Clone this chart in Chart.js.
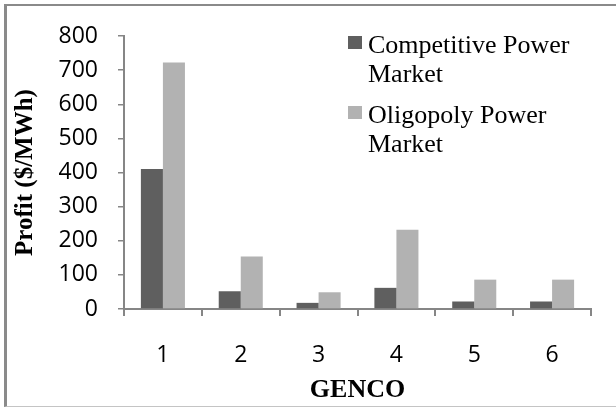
<!DOCTYPE html>
<html>
<head>
<meta charset="utf-8">
<script src="https://cdn.jsdelivr.net/npm/chart.js@4.4.1/dist/chart.umd.min.js"></script>
<style>
  html, body { margin: 0; padding: 0; background: #ffffff; }
  #wrap { position: relative; width: 616px; height: 408px; overflow: hidden; }
  #frame {
    position: absolute; left: 4px; top: 4px; width: 640px; height: 400px;
    border-left: 3px solid #8a8a8a; border-top: 2px solid #8a8a8a; border-bottom: 1px solid #c4c4c4;
  }
  #chart { position: absolute; left: 0; top: 0; }
</style>
</head>
<body>
<div id="wrap">
  <div id="frame"></div>
  <canvas id="chart" width="616" height="408"></canvas>
</div>
<script>
// GENCO numbers on the category axis
const gencos = ['1', '2', '3', '4', '5', '6'];
// Profit per GENCO, $/MWh
const competitiveProfit = [410, 52, 18, 62, 22, 22];
const oligopolyProfit = [722, 154, 49, 232, 86, 86];
// Value axis ticks
const yTicks = [0, 100, 200, 300, 400, 500, 600, 700, 800];

const seriesNames = ['Competitive Power Market', 'Oligopoly Power Market'];
const seriesColors = ['#5f5f5f', '#b2b2b2'];
const axisGray = '#868686';

// Legend drawn inside the plot, with labels wrapped onto several lines
const wrappedLegend = {
  id: 'wrappedLegend',
  afterDraw(chart) {
    const ctx = chart.ctx;
    const x0 = 348, box = 14, textX = 368, maxW = 216, lineH = 29;
    let baseline = 53;
    ctx.save();
    ctx.font = '26px "Liberation Serif", "Times New Roman", serif';
    ctx.textBaseline = 'alphabetic';
    ctx.textAlign = 'left';
    chart.data.datasets.forEach((ds) => {
      const words = ds.label.split(' ');
      const lines = [];
      let cur = '';
      words.forEach((w) => {
        const test = cur ? cur + ' ' + w : w;
        if (ctx.measureText(test).width > maxW && cur) { lines.push(cur); cur = w; }
        else cur = test;
      });
      if (cur) lines.push(cur);
      ctx.fillStyle = ds.backgroundColor;
      ctx.fillRect(x0, baseline - 17, box, 13);
      ctx.fillStyle = '#000000';
      lines.forEach((ln, i) => ctx.fillText(ln, textX, baseline + i * lineH));
      baseline += lines.length * lineH + 12;
    });
    ctx.restore();
  }
};

new Chart(document.getElementById('chart'), {
  type: 'bar',
  data: {
    labels: gencos,
    datasets: [
      { label: seriesNames[0], data: competitiveProfit, backgroundColor: seriesColors[0] },
      { label: seriesNames[1], data: oligopolyProfit, backgroundColor: seriesColors[1] }
    ]
  },
  options: {
    responsive: false,
    devicePixelRatio: 1,
    animation: false,
    categoryPercentage: 0.566,
    barPercentage: 1.0,
    layout: { padding: { left: 0, top: 36, right: 25, bottom: 0 } },
    plugins: {
      legend: { display: false },
      tooltip: { enabled: false }
    },
    scales: {
      x: {
        grid: { display: true, offset: true, drawOnChartArea: false, drawTicks: true, tickLength: 7, color: axisGray, lineWidth: 2 },
        border: { display: true, color: axisGray, width: 2 },
        ticks: { color: '#000000', padding: 26, font: { family: '"Open Sans", sans-serif', size: 23 } },
        title: {
          display: true, text: 'GENCO', color: '#000000',
          font: { family: '"Liberation Serif", "Times New Roman", serif', size: 26, weight: 'bold' },
          padding: { top: 0, bottom: 2 }
        },
        afterFit(scale) { scale.height = 99; }
      },
      y: {
        min: 0, max: 800,
        afterBuildTicks(scale) { scale.ticks = yTicks.map(v => ({ value: v })); },
        grid: { display: true, drawOnChartArea: false, drawTicks: true, tickLength: 6, color: axisGray, lineWidth: 1.5 },
        border: { display: true, color: axisGray, width: 2 },
        ticks: { color: '#000000', padding: 20, font: { family: '"Open Sans", sans-serif', size: 23 } },
        title: {
          display: true, text: 'Profit ($/MWh)', color: '#000000',
          font: { family: '"Liberation Serif", "Times New Roman", serif', size: 25, weight: 'bold' },
          padding: { top: 11, bottom: 0 }
        },
        afterFit(scale) { scale.width = 124; }
      }
    }
  },
  plugins: [wrappedLegend]
});
</script>
</body>
</html>
